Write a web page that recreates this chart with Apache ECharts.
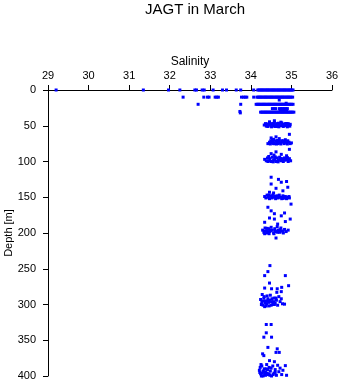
<!DOCTYPE html>
<html>
<head>
<meta charset="utf-8">
<script src="https://cdn.jsdelivr.net/npm/echarts@6/dist/echarts.min.js"></script>
<style>html,body{margin:0;padding:0;background:#fff}#c{width:341px;height:384px}</style>
</head>
<body>
<div id="c"></div>
<script>
// ---- data: [salinity, depth (m)] ----
const xTicks = [29, 30, 31, 32, 33, 34, 35, 36];
const yTicks = [0, 50, 100, 150, 200, 250, 300, 350, 400];

const row0 = [[29.2,0],[31.35,0],[31.97,0],[32.25,0],[32.62,0],[32.66,0],[32.8,0],[32.85,0],[33.07,0],[33.3,0],[33.4,0],[33.64,0],[33.75,0],[34.07,0],
  [34.17,0],[34.2,0],[34.23,0],[34.26,0],[34.29,0],[34.32,0],[34.35,0],[34.38,0],[34.41,0],[34.44,0],[34.47,0],[34.5,0],[34.53,0],[34.56,0],[34.59,0],
  [34.62,0],[34.65,0],[34.68,0],[34.71,0],[34.74,0],[34.77,0],[34.8,0],[34.83,0],[34.86,0],[34.89,0],[34.92,0],[34.95,0],[34.98,0],[35.01,0],[35.04,0]];

const row10 = [[32.33,10],[32.84,10],[32.93,10],[32.97,10],[33.12,10],[33.16,10],[33.2,10],[33.77,10],[33.82,10],[33.86,10],[33.9,10],[34.07,10],
  [34.15,10],[34.18,10],[34.21,10],[34.24,10],[34.27,10],[34.3,10],[34.33,10],[34.36,10],[34.39,10],[34.42,10],[34.45,10],[34.48,10],[34.51,10],[34.54,10],
  [34.57,10],[34.6,10],[34.63,10],[34.66,10],[34.69,10],[34.72,10],[34.75,10],[34.78,10],[34.81,10],[34.84,10],[34.87,10],[34.9,10],[34.93,10],[34.96,10],
  [34.99,10],[35.03,10],[34.7,14]];

const row20 = [[32.7,20],[33.75,20],
  [34.13,20],[34.16,20],[34.19,20],[34.22,20],[34.25,20],[34.28,20],[34.31,20],[34.34,20],[34.37,20],[34.4,20],[34.43,20],[34.46,20],[34.49,20],[34.52,20],
  [34.55,20],[34.58,20],[34.61,20],[34.64,20],[34.67,20],[34.7,20],[34.73,20],[34.76,20],[34.79,20],[34.82,20],[34.85,20],[34.88,20],[34.91,20],[34.94,20],
  [34.97,20],[35.0,20],[35.04,20],[34.87,18.5]];

const row25 = [[34.53,26],[34.57,26],[34.61,26],[34.7,26],[34.74,26],[34.78,26],[34.82,26],[34.86,26],[34.9,26]];

const row30 = [[33.73,30],[33.74,32],
  [34.24,31],[34.27,31],[34.3,31],[34.33,31],[34.36,31],[34.39,31],[34.42,31],[34.45,31],[34.48,31],[34.51,31],[34.54,31],[34.57,31],[34.6,31],[34.63,31],
  [34.66,31],[34.69,31],[34.72,31],[34.75,31],[34.78,31],[34.81,31],[34.84,31],[34.87,31],[34.9,31],[34.93,31],[34.96,31],[34.99,31],[35.02,31],[35.06,31],
  [34.72,29.5],[34.78,29.5],[34.84,29.5],[34.88,29.5]];

const band50 = [[34.33,49],[34.36,47],[34.4,50],[34.43,48],[34.46,46],[34.49,50],[34.52,47],[34.55,49],[34.58,45],[34.61,50],[34.64,47],[34.67,49],
  [34.7,48],[34.73,50],[34.76,46],[34.79,49],[34.82,48],[34.85,50],[34.88,47],[34.91,49],[34.94,50],[34.97,48],
  [34.58,43],[34.46,44.5],[34.74,45],[34.86,47],[34.38,50.5],[34.42,51],[34.51,51.5],[34.6,51],[34.69,51.5],[34.8,51],[34.9,51.5],
  [34.4,47.5],[34.48,48],[34.56,47],[34.63,48.5],[34.68,46.5],[34.77,48],[34.84,47.5],[34.92,47],[34.96,50.5],[34.54,50.5],[34.65,51]];

const band75 = [[34.42,75],[34.46,73],[34.49,71],[34.52,74],[34.55,72],[34.58,75],[34.61,71],[34.64,73],[34.67,75],[34.7,72],[34.73,74],[34.76,71],
  [34.79,73],[34.82,75],[34.85,72],[34.88,74],[34.91,71],[34.94,73],[34.97,75],[35.0,74],
  [34.95,62],[34.62,65.5],[34.7,68],[34.5,67],[34.56,69],[34.85,69.5],
  [34.48,75.5],[34.56,75],[34.63,75.5],[34.74,75.5],[34.8,71],[34.9,75.5],[34.53,70],[34.66,70.5]];

const band100 = [[34.34,97],[34.38,99],[34.41,95],[34.44,99],[34.47,96],[34.5,100],[34.53,94],[34.56,98],[34.59,96],[34.62,100],[34.65,95],[34.68,98],
  [34.71,94],[34.74,99],[34.77,96],[34.8,100],[34.83,95],[34.86,98],[34.89,97],[34.92,100],[34.95,96],[34.98,99],
  [34.95,83],[34.62,86.5],[34.5,89],[34.75,90],[34.57,91],[34.88,92],[34.44,93],
  [34.42,100],[34.55,100.5],[34.67,100.5],[34.73,96],[34.82,98],[34.9,94.5],[34.6,93.5]];

const band150 = [[34.34,149],[34.37,151],[34.4,147],[34.43,150],[34.46,152],[34.49,148],[34.52,151],[34.55,146],[34.58,150],[34.61,152],[34.64,148],
  [34.67,151],[34.7,147],[34.73,150],[34.76,152],[34.79,148],[34.82,151],[34.85,149],[34.88,152],[34.91,150],[34.95,151],
  [34.5,122],[34.68,125],[34.88,128],[34.5,131.5],[34.75,129],[34.91,136],[34.62,137.5],[34.79,141],[34.46,143],[34.56,144],[34.99,159.6],
  [34.44,147],[34.52,148.5],[34.6,149],[34.69,149.5],[34.78,151.5],[34.86,151],[34.94,149]];

const band200 = [[34.29,196],[34.32,199],[34.35,193],[34.38,197],[34.41,200],[34.44,194],[34.47,198],[34.5,192],[34.53,196],[34.56,200],[34.59,194],
  [34.62,198],[34.65,191],[34.68,196],[34.71,199],[34.74,193],[34.77,197],[34.8,200],[34.83,195],[34.87,198],[34.92,196],[34.34,201],[34.45,201],[34.57,201],
  [34.42,164],[34.5,169],[34.58,173],[34.83,172],[34.46,179],[34.75,176],[34.58,180.5],[34.97,180.5],[34.34,185],[34.85,184],[34.66,187.5],[34.62,207],
  [34.36,197.5],[34.43,198],[34.49,196.5],[34.6,197],[34.66,199],[34.72,195.5],[34.79,198.5],[34.4,193.5]];

const band300 = [[34.24,293],[34.27,297],[34.3,301],[34.33,289],[34.36,295],[34.39,299],[34.42,292],[34.45,302],[34.48,287],[34.51,296],[34.54,300],
  [34.57,291],[34.6,298],[34.63,294],[34.66,301],[34.69,289],[34.72,296],[34.75,292],[34.78,299],[34.28,286],[34.34,303],[34.4,288],[34.47,294],
  [34.26,300],[34.52,292],[34.38,302],[34.56,296],
  [34.47,245.6],[34.42,254],[34.34,259.6],[34.85,259.6],[34.46,270],[34.93,273.7],[34.34,277],[34.51,278],[34.65,278],[34.76,276],
  [34.64,283],[34.75,282],[34.83,299.5],
  [34.3,295],[34.35,298],[34.44,297],[34.5,301],[34.58,300],[34.62,291],[34.32,291],[34.41,295.5]];

const band400 = [[34.21,392],[34.24,397],[34.27,386],[34.3,400],[34.33,390],[34.36,395],[34.39,384],[34.42,398],[34.45,388],[34.48,393],[34.51,400],
  [34.54,386],[34.57,396],[34.6,391],[34.63,399],[34.66,385],[34.69,394],[34.72,389],[34.76,398],[34.79,392],[34.25,384],[34.3,393],[34.36,399],
  [34.41,391],[34.23,388],[34.45,397],[34.5,389],[34.28,396],
  [34.38,328],[34.5,328],[34.38,339.6],[34.32,345.7],[34.51,345.7],[34.42,360],[34.65,362],[34.7,367],[34.62,367],[34.29,369],[34.32,371.5],
  [34.46,378.5],[34.58,380],[34.85,385.5],[34.88,399],
  [34.26,400],[34.34,398],[34.4,396],[34.47,399],[34.55,398],[34.6,395],[34.33,394],[34.22,395],[34.38,390]];

const allPoints = [].concat(row0, row10, row20, row25, row30, band50, band75, band100, band150, band200, band300, band400);

const font = 'Liberation Sans, Arial, Helvetica, sans-serif';
const chart = echarts.init(document.getElementById('c'), null, {renderer: 'canvas'});
chart.setOption({
  animation: false,
  backgroundColor: '#ffffff',
  title: {
    text: 'JAGT in March',
    left: 190, top: -3, textAlign: 'center',
    textStyle: {fontFamily: font, fontSize: 15, fontWeight: 'normal', color: '#000'}
  },
  grid: {left: 48, right: 9, top: 90, bottom: 8, containLabel: false, outerBoundsMode: 'none'},
  xAxis: {
    type: 'value', position: 'top', min: xTicks[0], max: xTicks[xTicks.length - 1], interval: 1,
    name: 'Salinity', nameLocation: 'middle', nameGap: 22, nameMoveOverlap: false,
    nameTextStyle: {fontFamily: font, fontSize: 12, color: '#000'},
    axisLine: {show: true, onZero: false, lineStyle: {color: '#000', width: 1}},
    axisTick: {show: true, length: 5, inside: false, lineStyle: {color: '#000'}},
    axisLabel: {fontFamily: font, fontSize: 11, color: '#000', margin: 9},
    splitLine: {show: false}
  },
  yAxis: {
    type: 'value', inverse: true, min: yTicks[0], max: yTicks[yTicks.length - 1], interval: 50,
    name: 'Depth [m]', nameLocation: 'middle', nameGap: 34, nameRotate: 90, nameMoveOverlap: false,
    nameTextStyle: {fontFamily: font, fontSize: 11, color: '#000'},
    axisLine: {show: true, onZero: false, lineStyle: {color: '#000', width: 1}},
    axisTick: {show: true, length: 5, inside: false, lineStyle: {color: '#000'}},
    axisLabel: {fontFamily: font, fontSize: 11, color: '#000', margin: 12},
    splitLine: {show: false}
  },
  series: [{
    type: 'scatter',
    data: allPoints,
    symbol: 'rect',
    symbolSize: 3,
    itemStyle: {color: '#0000ff', opacity: 1},
    silent: true
  }]
});
</script>
</body>
</html>
